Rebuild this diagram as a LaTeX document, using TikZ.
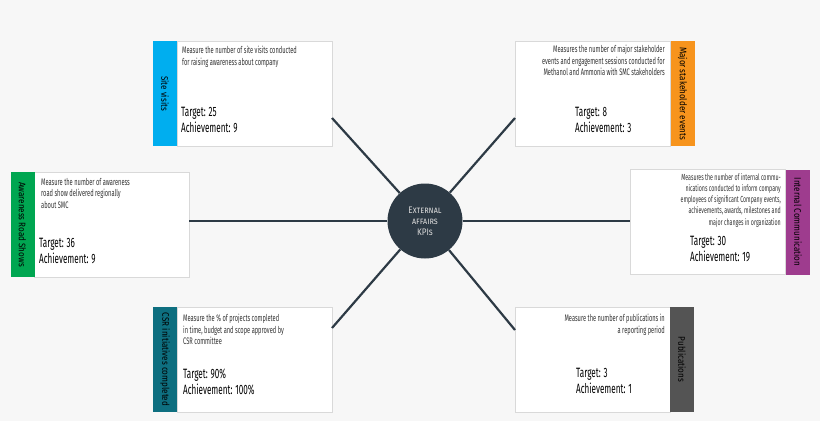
\documentclass[tikz,border=0pt]{standalone}
\usepackage{fontspec}
\setmainfont{Fira Sans}[FakeStretch=0.6]
\newfontfamily\labfont{Fira Sans}[FakeStretch=0.85]
\begin{document}
\begin{tikzpicture}[x=1pt,y=-1pt,
  card/.style={draw=black!15,line width=0.6pt,fill=white,minimum width=155pt,minimum height=105pt,inner sep=0pt},
  strip/.style={minimum width=24pt,minimum height=105pt,inner sep=0pt},
  vlab/.style={rotate=-90,font=\labfont\fontsize{9.5}{10}\selectfont},
  desc/.style={font=\fontsize{9.5}{11.5}\selectfont,align=left,anchor=north west,inner sep=0pt,text=black!80},
  kpi/.style={font=\fontsize{13.5}{16}\selectfont,align=left,anchor=north west,inner sep=0pt},
  spoke/.style={draw=hub,line width=2.2pt}]
\definecolor{hub}{HTML}{2D3A45}
\definecolor{bg}{HTML}{F7F7F7}
\fill[bg] (0,0) rectangle (820,421);
\useasboundingbox (0,0) rectangle (820,421);
% cards
\node[card] (c1) at (254.5,93.5) {};
\node[strip,fill={rgb,255:red,0;green,174;blue,239}] (s1) at (165,93.5) {};
\node[vlab] at (s1) {Site visits};
\node[desc] at (182,46) {Measure the number of site visits conducted\\for raising awareness about company};
\node[kpi] at (181,107) {Target: 25\\Achievement: 9};

\node[card] (c2) at (592.5,93.5) {};
\node[strip,fill={rgb,255:red,247;green,148;blue,29}] (s2) at (682.5,93.5) {};
\node[vlab] at (s2) {Major stakeholder events};
\node[desc,anchor=north east,align=right] at (665,45) {Measures the number of major stakeholder\\events and engagement sessions conducted for\\Methanol and Ammonia with SMC stakeholders};
\node[kpi] at (575,107) {Target: 8\\Achievement: 3};

\node[card] (c3) at (111.5,224.5) {};
\node[strip,fill={rgb,255:red,0;green,166;blue,81}] (s3) at (22.5,224.5) {};
\node[vlab] at (s3) {Awareness Road Shows};
\node[desc] at (41,178) {Measure the number of awareness\\road show delivered regionally\\about SMC};
\node[kpi] at (39,238) {Target: 36\\Achievement: 9};

\node[card] (c4) at (708,222) {};
\node[strip,fill={rgb,255:red,158;green,60;blue,142}] (s4) at (798,222) {};
\node[vlab] at (s4) {Internal Communication};
\node[desc,anchor=north east,align=right,font=\fontsize{8.8}{11.3}\selectfont] at (781,173) {Measures the number of internal commu-\\nications conducted to inform company\\employees of significant Company events,\\achievements, awards, milestones and\\major changes in organization};
\node[kpi] at (690,236) {Target: 30\\Achievement: 19};

\node[card] (c5) at (254.5,359.5) {};
\node[strip,fill={rgb,255:red,14;green,111;blue,128}] (s5) at (165,359.5) {};
\node[vlab] at (s5) {CSR initiatives completed};
\node[desc] at (183,314) {Measure the \% of projects completed\\in time, budget and scope approved by\\CSR committee};
\node[kpi] at (183,369) {Target: 90\%\\Achievement: 100\%};

\node[card] (c6) at (592.5,359.5) {};
\node[strip,fill=black!67] (s6) at (682,359.5) {};
\node[vlab] at (s6) {Publications};
\node[desc,anchor=north east,align=right] at (665,314) {Measure the number of publications in\\a reporting period};
\node[kpi] at (576,368) {Target: 3\\Achievement: 1};

% hub
\node[circle,fill=hub,minimum size=75pt,inner sep=0pt,text=black!15,align=center,
  font=\labfont\fontsize{9.5}{11}\selectfont] (h) at (425,221) {\textsc{External}\\\textsc{affairs}\\\textsc{KPIs}};
\coordinate (e1) at (332,118); \coordinate (e2) at (515,118);
\coordinate (e3) at (189,221); \coordinate (e4) at (630,221);
\coordinate (e5) at (332,328); \coordinate (e6) at (515,330);
\foreach \e in {e1,e2,e3,e4,e5,e6} \draw[spoke] (h) -- (\e);
\end{tikzpicture}
\end{document}
